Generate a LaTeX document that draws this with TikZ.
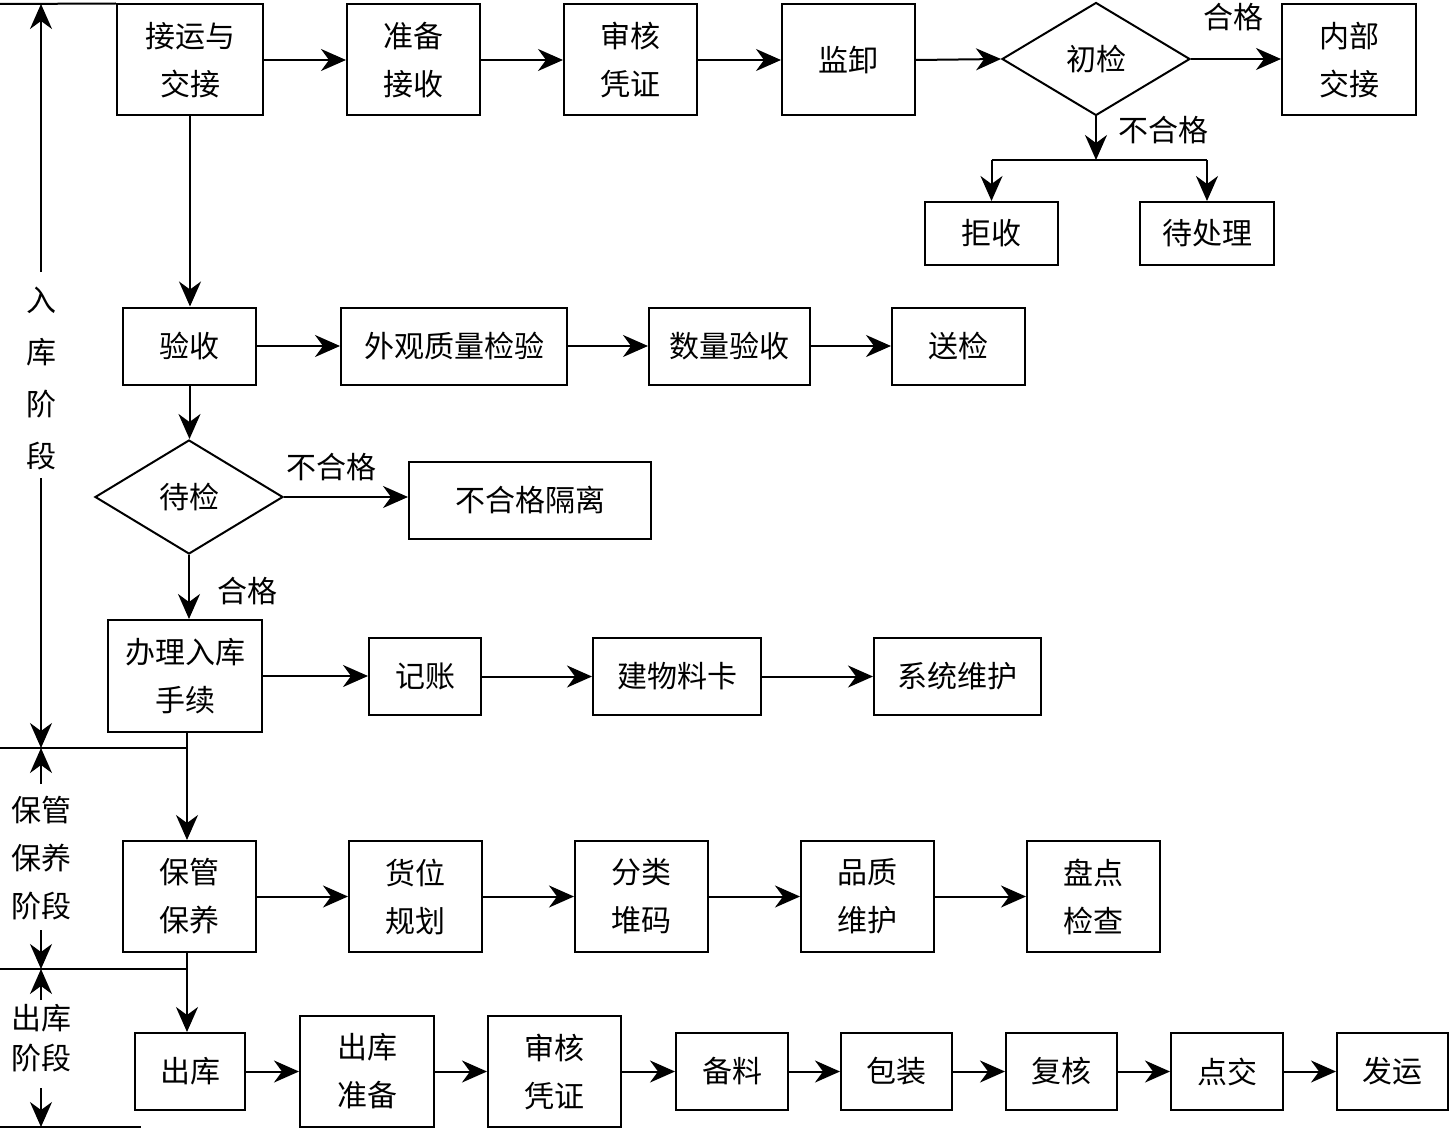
\documentclass[tikz,border=0pt]{standalone}
\usepackage{fontspec}
\setmainfont{Noto Sans CJK SC}
\usetikzlibrary{arrows.meta,shapes.geometric}
\begin{document}
\begin{tikzpicture}[x=1pt,y=-1pt,
  every node/.style={font=\fontsize{30}{48}\selectfont, inner sep=0pt, align=center},
  box/.style={draw, line width=2pt, minimum height=77pt},
  tall/.style={box, minimum height=111pt},
  dia/.style={draw, line width=2pt, diamond, minimum width=188pt, minimum height=113pt},
  lbl/.style={font=\fontsize{30}{48}\selectfont},
  ln/.style={line width=2pt},
  arr/.style={ln, -{Stealth[length=25pt,width=22pt,inset=8pt]}},
]
\useasboundingbox (0,0) rectangle (1450,1129);
% row 1
\node[tall, minimum width=146pt] (n1) at (190,60) {接运与\\交接};
\node[tall, minimum width=133pt] (n2) at (413.5,60) {准备\\接收};
\node[tall, minimum width=133pt] (n3) at (630.5,60) {审核\\凭证};
\node[tall, minimum width=133pt] (n4) at (848.5,60) {监卸};
\node[dia] (d1) at (1096,59) {初检};
\node[tall, minimum width=134pt] (n5) at (1349,60) {内部\\交接};
\node[box, minimum height=63pt, minimum width=133pt] (n6) at (991.5,233.5) {拒收};
\node[box, minimum height=63pt, minimum width=134pt] (n7) at (1207,233.5) {待处理};
\node[lbl] (l1) at (1233,17) {合格};
\node[lbl] (l2) at (1163,130) {不合格};
\coordinate (br) at (1096,160);
\draw[arr] (n1) -- (n2);
\draw[arr] (n2) -- (n3);
\draw[arr] (n3) -- (n4);
\draw[arr] (n4.east) -- (d1.west);
\draw[arr] (d1.east) -- (d1.east -| n5.west);
\draw[arr] (d1.south) -- (br);
\draw[ln] (n6.north |- br) -- (n7.north |- br);
\draw[arr] (n6.north |- br) -- (n6.north);
\draw[arr] (n7.north |- br) -- (n7.north);
% row 2
\node[box, minimum width=133pt] (y1) at (189.5,346) {验收};
\node[box, minimum width=226pt] (y2) at (454,346) {外观质量检验};
\node[box, minimum width=161pt] (y3) at (729.5,346) {数量验收};
\node[box, minimum width=133pt] (y4) at (958.5,346) {送检};
\draw[arr] (n1.south) -- (n1.south |- y1.north);
\draw[arr] (y1) -- (y2);
\draw[arr] (y2) -- (y3);
\draw[arr] (y3) -- (y4);
% check
\node[dia, minimum height=114pt] (d2) at (189,497) {待检};
\node[box, minimum width=242pt] (g1) at (530,500.5) {不合格隔离};
\node[lbl] (l3) at (331,467) {不合格};
\node[lbl] (l4) at (247,591) {合格};
\draw[arr] (y1.south) -- (y1.south |- d2.north);
\draw[arr] (d2.east) -- (d2.east -| g1.west);
% row 3
\node[tall, minimum width=154pt, minimum height=112pt] (b1) at (185,676) {办理入库\\手续};
\node[box, minimum width=112pt] (b2) at (425,676.5) {记账};
\node[box, minimum width=168pt] (b3) at (677,676.5) {建物料卡};
\node[box, minimum width=167pt] (b4) at (957.5,676.5) {系统维护};
\draw[arr] (d2.south) -- (d2.south |- b1.north);
\draw[arr] (b1.east) -- (b1.east -| b2.west);
\draw[arr] (b2) -- (b3);
\draw[arr] (b3) -- (b4);
% row 4
\node[tall, minimum width=133pt] (m1) at (189.5,896.5) {保管\\保养};
\node[tall, minimum width=133pt] (m2) at (415.5,896.5) {货位\\规划};
\node[tall, minimum width=133pt] (m3) at (641.5,896.5) {分类\\堆码};
\node[tall, minimum width=133pt] (m4) at (867.5,896.5) {品质\\维护};
\node[tall, minimum width=133pt] (m5) at (1093.5,896.5) {盘点\\检查};
\coordinate (v1) at (187,732);
\coordinate (h1) at (0,748);
\draw[arr] (v1) -- (v1 |- m1.north);
\draw[ln] (h1) -- (h1 -| v1);
\draw[arr] (m1) -- (m2);
\draw[arr] (m2) -- (m3);
\draw[arr] (m3) -- (m4);
\draw[arr] (m4) -- (m5);
% row 5
\node[box, minimum width=110pt] (o1) at (190,1071.5) {出库};
\node[tall, minimum width=134pt] (o2) at (367,1071.5) {出库\\准备};
\node[tall, minimum width=133pt] (o3) at (554.5,1071.5) {审核\\凭证};
\node[box, minimum width=112pt] (o4) at (732,1071.5) {备料};
\node[box, minimum width=111pt] (o5) at (896.5,1071.5) {包装};
\node[box, minimum width=111pt] (o6) at (1061.5,1071.5) {复核};
\node[box, minimum width=112pt] (o7) at (1227,1071.5) {点交};
\node[box, minimum width=111pt] (o8) at (1392.5,1071.5) {发运};
\coordinate (v2) at (187,952);
\coordinate (h2) at (0,969);
\draw[arr] (v2) -- (v2 |- o1.north);
\draw[ln] (h2) -- (h2 -| v2);
\draw[arr] (o1) -- (o2);
\draw[arr] (o2) -- (o3);
\draw[arr] (o3) -- (o4);
\draw[arr] (o4) -- (o5);
\draw[arr] (o5) -- (o6);
\draw[arr] (o6) -- (o7);
\draw[arr] (o7) -- (o8);
% left stage markers
\coordinate (t0) at (0,4);
\draw[ln] (t0) -- (n1.north west);
\coordinate (h3) at (0,1127);
\coordinate (h3e) at (141,1127);
\draw[ln] (h3) -- (h3e);
\node[font=\fontsize{30}{52}\selectfont] (s1) at (41,378) {入\\库\\阶\\段};
\coordinate (a1) at (41,4);
\coordinate (a2) at (41,748);
\coordinate (a3) at (41,969);
\coordinate (a4) at (41,1127);
\draw[arr] (41,272) -- (a1);
\draw[arr] (41,478) -- (a2);
\node[font=\fontsize{30}{48}\selectfont] (s2) at (41,858) {保管\\保养\\阶段};
\draw[arr] (41,784) -- (a2);
\draw[arr] (41,930) -- (a3);
\node[font=\fontsize{30}{40}\selectfont] (s3) at (41,1038) {出库\\阶段};
\draw[arr] (41,1000) -- (a3);
\draw[arr] (41,1088) -- (a4);
\end{tikzpicture}
\end{document}
